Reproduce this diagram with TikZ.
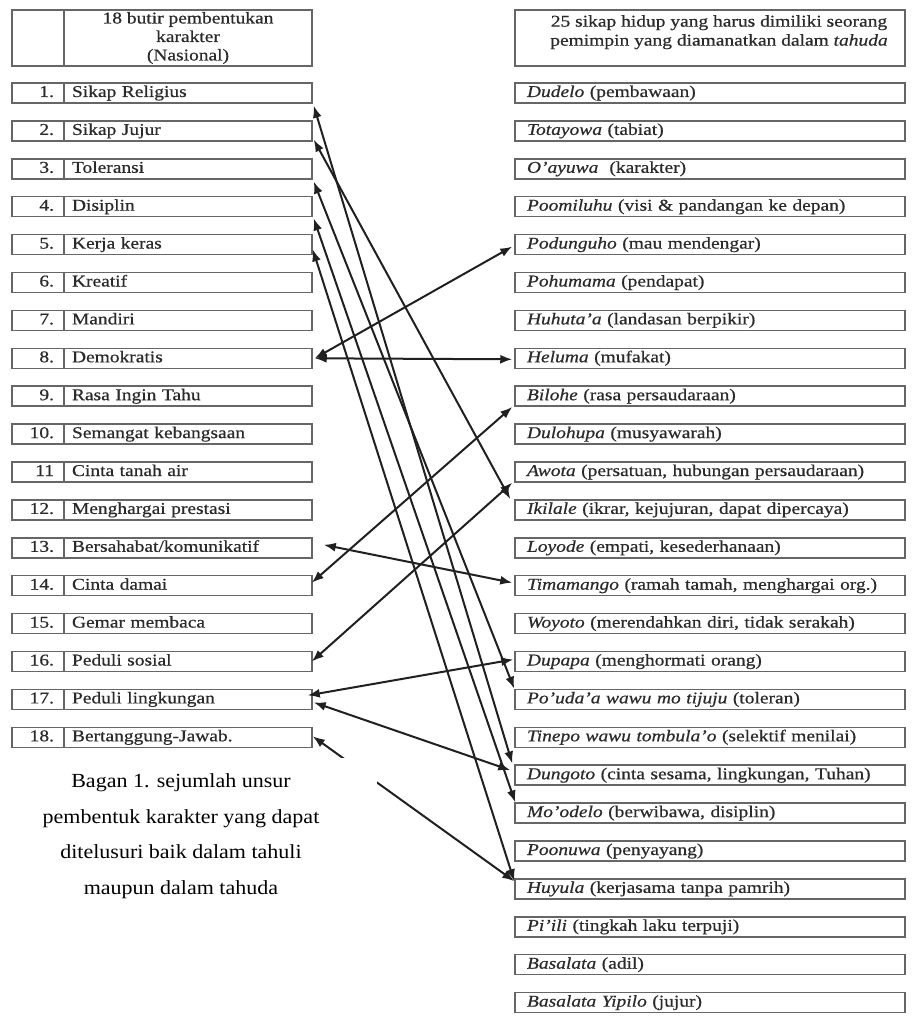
\documentclass[tikz,border=0pt]{standalone}
\usepackage{fontspec}
\setmainfont{Liberation Serif}
\newfontfamily\boxfont[FakeStretch=1.18,FakeBold=0.6]{Liberation Serif}
\newfontfamily\capfont[FakeStretch=1.1]{Liberation Serif}
\usetikzlibrary{arrows.meta,calc}
\definecolor{boxgray}{HTML}{666666}
\definecolor{txtgray}{HTML}{2A2A2A}
\definecolor{lncol}{HTML}{202020}
\begin{document}
\begin{tikzpicture}[x=1pt,y=-1pt,
  hcell/.style={draw=boxgray,line width=1.5pt,inner sep=0pt,text=txtgray,
    font=\boxfont\fontsize{16.5}{18.5}\selectfont},
  cell/.style={draw=boxgray,line width=1.5pt,inner ysep=0pt,minimum height=20pt,
    text height=12pt,text depth=4pt,text=txtgray,
    font=\boxfont\fontsize{16.5}{19}\selectfont},
  numcell/.style={cell,inner xsep=10pt,text width=32pt,align=right},
  lcell/.style={cell,inner xsep=8pt,text width=232pt,align=left},
  rcell/.style={cell,inner xsep=12pt,text width=366pt,align=left},
  conn/.style={{Latex[length=12pt,width=9pt]}-{Latex[length=12pt,width=9pt]},
    line width=2pt,draw=lncol},
]
\useasboundingbox (0,0) rectangle (923,1016);

% headers
\node[hcell,minimum width=52pt,minimum height=56pt] (hn) at (38,38) {};
\node[hcell,minimum width=248pt,minimum height=56pt,align=center] (hl) at (188,38)
  {18 butir pembentukan\\karakter\\(Nasional)};
\node[hcell,minimum width=390pt,minimum height=56pt] (hr) at (710,38) {};
\node[anchor=north,align=center,inner sep=0pt,text=txtgray,
  font=\boxfont\fontsize{16.5}{19}\selectfont] (hrt) at (719,15)
  {25 sikap hidup yang harus dimiliki seorang\\pemimpin yang diamanatkan dalam \textit{tahuda}};

% left column
\foreach \n/\t [count=\i] in {1./Sikap Religius, 2./Sikap Jujur, 3./Toleransi,
  4./Disiplin, 5./Kerja keras, 6./Kreatif, 7./Mandiri, 8./Demokratis,
  9./Rasa Ingin Tahu, 10./Semangat kebangsaan, 11/Cinta tanah air,
  12./Menghargai prestasi, 13./{Bersahabat/komunikatif}, 14./Cinta damai,
  15./Gemar membaca, 16./Peduli sosial, 17./Peduli lingkungan,
  18./Bertanggung-Jawab.}{
  \pgfmathsetmacro\yy{93+37.9*(\i-1)}
  \node[numcell] (n\i) at (38,\yy) {\n};
  \node[lcell] (l\i) at (188,\yy) {\t};
}

% right column
\foreach \t [count=\i] in {
  {\textit{Dudelo} (pembawaan)},
  {\textit{Totayowa} (tabiat)},
  {\textit{O’ayuwa}\ \ (karakter)},
  {\textit{Poomiluhu} (visi \& pandangan ke depan)},
  {\textit{Podunguho} (mau mendengar)},
  {\textit{Pohumama} (pendapat)},
  {\textit{Huhuta’a} (landasan berpikir)},
  {\textit{Heluma} (mufakat)},
  {\textit{Bilohe} (rasa persaudaraan)},
  {\textit{Dulohupa} (musyawarah)},
  {\textit{Awota} (persatuan, hubungan persaudaraan)},
  {\textit{Ikilale} (ikrar, kejujuran, dapat dipercaya)},
  {\textit{Loyode} (empati, kesederhanaan)},
  {\textit{Timamango} (ramah tamah, menghargai org.)},
  {\textit{Woyoto} (merendahkan diri, tidak serakah)},
  {\textit{Dupapa} (menghormati orang)},
  {\textit{Po’uda’a wawu mo tijuju} (toleran)},
  {\textit{Tinepo wawu tombula’o} (selektif menilai)},
  {\textit{Dungoto} (cinta sesama, lingkungan, Tuhan)},
  {\textit{Mo’odelo} (berwibawa, disiplin)},
  {\textit{Poonuwa} (penyayang)},
  {\textit{Huyula} (kerjasama tanpa pamrih)},
  {\textit{Pi’ili} (tingkah laku terpuji)},
  {\textit{Basalata} (adil)},
  {\textit{Basalata Yipilo} (jujur)}}{
  \pgfmathsetmacro\yy{93+37.9*(\i-1)}
  \node[rcell] (r\i) at (710,\yy) {\t};
}

% connectors
\draw[conn] ($(l1.south east)+(1,2)$) -- ($(r19.north west)+(-2,-1)$);
\draw[conn] ($(l2.south east)+(1,-2)$) -- ($(r12.north west)+(-4,0)$);
\draw[conn] ($(l3.south east)+(1,2)$) -- ($(r17.north west)+(0,0)$);
\draw[conn] ($(l4.south east)+(1,1)$) -- ($(r20.north west)+(1,0)$);
\draw[conn] ($(l5.south east)+(0,-6)$) -- ($(r22.north west)+(0,3)$);
\draw[conn] ($(l8.east)+(2,0)$) -- ($(r5.west)+(-2,2)$);
\draw[conn] ($(l8.east)+(2,0)$) -- ($(r8.west)+(-2,1)$);
\draw[conn] ($(l13.east)+(11,-3)$) -- ($(r14.west)+(-2,-3)$);
\draw[conn] ($(l14.east)+(-1,-3)$) -- ($(r9.south west)+(-2,0)$);
\draw[conn] ($(l16.east)+(-1,0)$) -- ($(r11.south west)+(-2,0)$);
\draw[conn] ($(l17.east)+(-5,-4)$) -- ($(r16.west)+(-1,-2)$);
\draw[conn] ($(l17.east)+(1,3)$) -- ($(r19.west)+(-4,-5)$);
\draw[conn] ($(l18.east)+(0,-1)$) -- ($(r22.north west)+(0,3)$);

% caption (its white ground hides part of the last connector)
\fill[white] (0,758) rectangle (377,935);
\node[align=center,inner sep=0pt,font=\capfont\fontsize{20}{35.5}\selectfont] (cap) at (181,836)
  {Bagan 1. sejumlah unsur\\pembentuk karakter yang dapat\\ditelusuri baik dalam tahuli\\maupun dalam tahuda};
\end{tikzpicture}
\end{document}
